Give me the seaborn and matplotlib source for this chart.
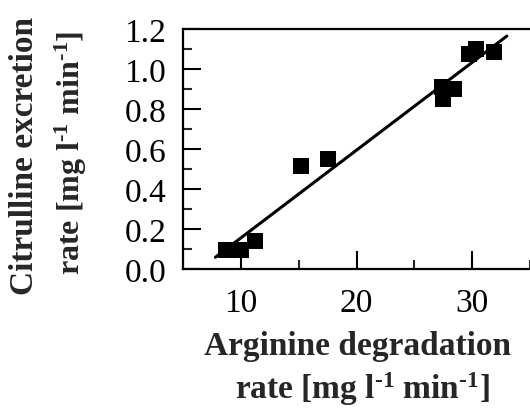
import numpy as np
import pandas as pd
import matplotlib
matplotlib.use("Agg")
import matplotlib.pyplot as plt
from matplotlib.ticker import MultipleLocator, FormatStrFormatter
import seaborn as sns

# ---- data ----
arginine_rate = [8.7, 10.0, 11.2, 15.2, 17.5, 27.5, 27.4, 28.4, 29.7, 30.3, 31.9]
citrulline_rate = [0.095, 0.095, 0.14, 0.517, 0.55, 0.85, 0.91, 0.90, 1.075, 1.10, 1.085]
fit_x_range = [7.8, 33.0]

x_label_lines = ["Arginine degradation", "rate [mg l$^{\u20101}$ min$^{\u20101}$]"]
y_label_lines = ["Citrulline excretion", "rate [mg l$^{\u20101}$ min$^{\u20101}$]"]

sns.set_theme(style="ticks")
plt.rcParams["font.family"] = ["Liberation Serif", "DejaVu Serif"]
plt.rcParams["mathtext.fontset"] = "custom"
plt.rcParams["mathtext.rm"] = "Liberation Serif:bold"
plt.rcParams["mathtext.bf"] = "Liberation Serif:bold"
plt.rcParams["mathtext.it"] = "Liberation Serif:bold"
plt.rcParams["mathtext.default"] = "rm"

df = pd.DataFrame({"arginine": arginine_rate, "citrulline": citrulline_rate})
slope, intercept = np.polyfit(df["arginine"], df["citrulline"], 1)
fx = np.linspace(fit_x_range[0], fit_x_range[1], 50)
fit_df = pd.DataFrame({"x": fx, "y": slope * fx + intercept})

W, H = 530, 410
fig = plt.figure(figsize=(W / 100, H / 100), dpi=100)
left, right, top, bottom = 183, 530, 30, 270
ax = fig.add_axes([left / W, 1 - bottom / H, (right - left) / W, (bottom - top) / H])

sns.lineplot(data=fit_df, x="x", y="y", ax=ax, color="black", linewidth=2.2)
sns.scatterplot(data=df, x="arginine", y="citrulline", ax=ax, marker="s",
                color="black", s=135, linewidth=0, zorder=3)

ax.set_xlim(5, 35)
ax.set_ylim(0, 1.2)
ax.xaxis.set_major_locator(MultipleLocator(10))
ax.xaxis.set_minor_locator(MultipleLocator(5))
ax.yaxis.set_major_locator(MultipleLocator(0.2))
ax.yaxis.set_minor_locator(MultipleLocator(0.1))
ax.yaxis.set_major_formatter(FormatStrFormatter("%.1f"))

ax.tick_params(axis="both", which="major", direction="in", length=13, width=1.5,
               labelsize=24, colors="black")
ax.tick_params(axis="both", which="minor", direction="in", length=6.5, width=1.5)
ax.tick_params(axis="x", which="major", pad=13)
ax.tick_params(axis="y", which="major", pad=12)

for side in ["left", "bottom", "top"]:
    ax.spines[side].set_linewidth(1.6)
    ax.spines[side].set_color("black")
ax.spines["right"].set_visible(False)

ax.set_xlabel("")
ax.set_ylabel("")

fs = 24
fig.text(358 / W, 1 - 347 / H, x_label_lines[0], ha="center", va="center",
         fontsize=fs, fontweight="bold")
fig.text(362 / W, 1 - 389 / H, x_label_lines[1], ha="center", va="center",
         fontsize=fs, fontweight="bold")
fig.text(25 / W, 1 - 156 / H, y_label_lines[0], ha="center", va="center",
         fontsize=fs, fontweight="bold", rotation=90)
fig.text(71 / W, 1 - 153 / H, y_label_lines[1], ha="center", va="center",
         fontsize=fs - 1, fontweight="bold", rotation=90)

fig.savefig("out.png", dpi=100)
